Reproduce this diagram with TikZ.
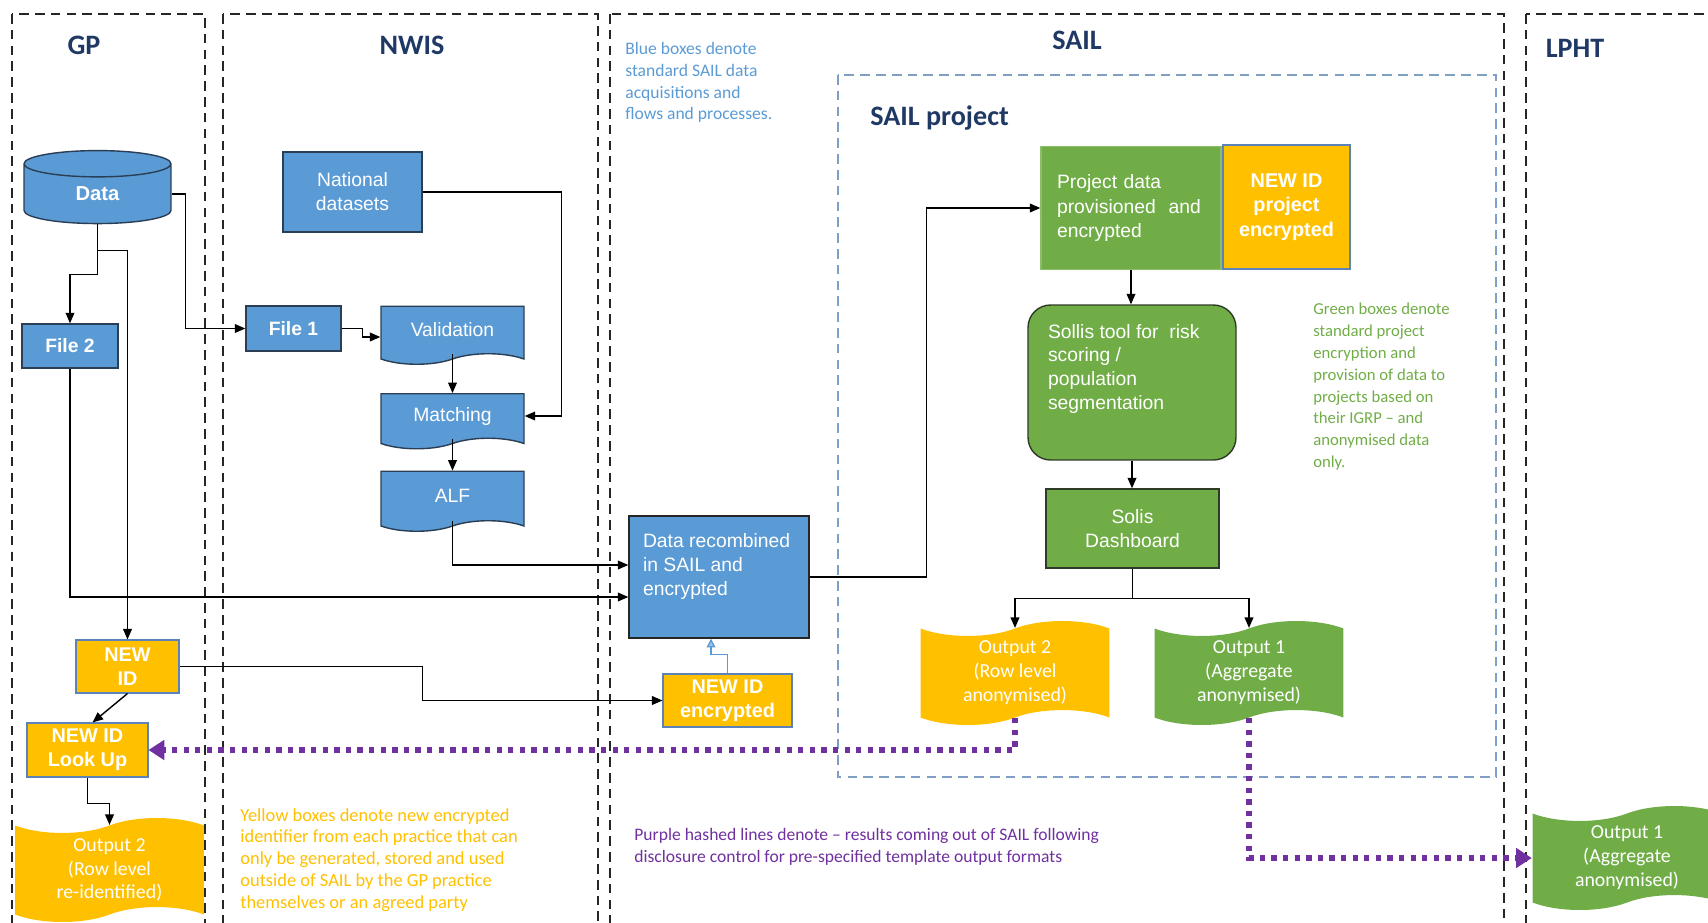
\documentclass[tikz,border=0pt]{standalone}
\usepackage{fontspec}
\setmainfont{Liberation Sans}
\newfontfamily\calibrifont{Carlito}
\usetikzlibrary{arrows.meta, positioning, shapes.geometric, shapes.symbols}

\definecolor{titlenavy}{HTML}{1F3864}
\definecolor{boxblue}{HTML}{5B9BD5}
\definecolor{edgeblue}{HTML}{2A3F55}
\definecolor{boxgreen}{HTML}{70AD47}
\definecolor{edgegreen}{HTML}{2E3B26}
\definecolor{boxyellow}{HTML}{FFC000}
\definecolor{edgeyellow}{HTML}{5B83B8}
\definecolor{hashpurple}{HTML}{7030A0}
\definecolor{projblue}{HTML}{7F9FC6}

\tikzset{
  lane/.style={draw=black!85, line width=1pt, dash pattern=on 5.5pt off 3.5pt},
  projlane/.style={draw=projblue, line width=0.8pt, dash pattern=on 5.5pt off 3.5pt},
  lanetitle/.style={text=titlenavy, inner sep=0pt, font=\calibrifont\bfseries\fontsize{16}{19}\selectfont},
  notetext/.style={anchor=north west, align=left, inner sep=0pt, font=\calibrifont\fontsize{10}{12.4}\selectfont},
  boxbase/.style={inner sep=0pt, text=white, align=center, line width=0.8pt, font=\fontsize{11}{13.6}\selectfont},
  bluebox/.style={boxbase, fill=boxblue, draw=edgeblue},
  docbox/.style={bluebox, tape, tape bend top=none, tape bend height=6pt, minimum width=2.86cm},
  greenbox/.style={boxbase, fill=boxgreen, draw=edgegreen},
  yellowbox/.style={boxbase, fill=boxyellow, draw=edgeyellow, line width=0.6pt, font=\bfseries\fontsize{11.3}{13.6}\selectfont},
  outtape/.style={boxbase, draw=none, tape, tape bend height=8.5pt, minimum width=3.78cm, minimum height=2.08cm, font=\calibrifont\fontsize{11.3}{13.6}\selectfont},
  flow/.style={-{Triangle[length=6pt,width=5pt]}, line width=0.8pt},
  hashed/.style={draw=hashpurple, line width=3pt, dash pattern=on 3pt off 3.6pt, -{Triangle[length=9pt,width=11pt]}}
}

\begin{document}
\begin{tikzpicture}[x=0.02cm, y=-0.02cm]
\useasboundingbox (0,0) rectangle (1708,923);
\clip (0,0) rectangle (1708,923);

% lanes
\draw[lane] (12,14) rectangle (205,960);
\draw[lane] (223,14) rectangle (598,960);
\draw[lane] (610,14) rectangle (1504,960);
\draw[lane] (1526,14) rectangle (1760,960);
\draw[projlane] (838,75) rectangle (1496,777);

\node[lanetitle] (gptitle) at (84,45) {GP};
\node[lanetitle] (nwistitle) at (412,45) {NWIS};
\node[lanetitle] (sailtitle) at (1077,40) {SAIL};
\node[lanetitle] (lphttitle) at (1575,48) {LPHT};
\node[lanetitle, anchor=west] (projtitle) at (870,118) {SAIL project};

% GP
\node[bluebox, cylinder, shape border rotate=90, aspect=0.6, minimum width=2.94cm, minimum height=1.46cm, font=\bfseries\fontsize{11.5}{13.6}\selectfont] (data) at (97.5,194) {Data};
\node[bluebox, minimum width=1.92cm, minimum height=0.88cm, font=\bfseries\fontsize{11}{13.6}\selectfont] (file2) at (70,346) {File 2};
\node[yellowbox, minimum width=2.06cm, minimum height=1.06cm] (newid) at (127.5,666.5) {NEW\\ID};
\node[yellowbox, minimum width=2.42cm, minimum height=1.08cm] (lookup) at (87.5,750) {NEW ID\\Look Up};
\node[outtape, fill=boxyellow] (gpout) at (109.5,870) {Output 2\\(Row level\\re-identified)};

% NWIS
\node[bluebox, minimum width=2.78cm, minimum height=1.6cm] (national) at (352.5,192) {National\\datasets};
\node[bluebox, minimum width=1.9cm, minimum height=0.9cm, font=\bfseries\fontsize{11}{13.6}\selectfont] (file1) at (293.5,328.5) {File 1};
\node[docbox, minimum height=1.16cm] (validation) at (452.5,330) {Validation};
\node[docbox, minimum height=1.1cm] (matching) at (452.5,416) {Matching};
\node[docbox, minimum height=1.2cm] (alf) at (452.5,496) {ALF};

% SAIL
\node[bluebox, draw=black!85, inner xsep=0.28cm, inner ysep=0.25cm] (datarec) at (719,577) {\parbox[c][1.94cm][t]{3.04cm}{\raggedright\vspace*{0.1cm}Data recombined\\in SAIL and\\encrypted}};
\node[yellowbox, minimum width=2.58cm, minimum height=1.06cm] (newidenc) at (727.5,700.5) {NEW ID\\encrypted};
\node[greenbox, draw=boxgreen!80!white, minimum width=3.6cm, minimum height=2.46cm, text width=2.96cm, align=left, font=\fontsize{11}{14}\selectfont] (projdata) at (1131,208) {Project data\\provisioned\ \ and\\encrypted};
\node[yellowbox, minimum width=2.54cm, minimum height=2.48cm, font=\bfseries\fontsize{11.3}{14}\selectfont] (newidproj) at (1286.5,207) {\rule{0pt}{0.2cm}NEW ID\\project\\encrypted};
\node[greenbox, rounded corners=0.45cm, inner xsep=0.4cm, inner ysep=0.3cm] (sollis) at (1132,382.5) {\parbox[c][2.5cm][t]{3.36cm}{\raggedright\vspace*{0.08cm}Sollis tool for\ \ risk\\scoring /\\population\\segmentation}};
\node[greenbox, minimum width=3.46cm, minimum height=1.58cm] (dashboard) at (1132.5,528.5) {Solis\\Dashboard};
\node[outtape, fill=boxyellow] (out2) at (1015,673) {Output 2\\(Row level\\anonymised)};
\node[outtape, fill=boxgreen] (out1) at (1249,673) {Output 1\\(Aggregate\\anonymised)};

% LPHT
\node[outtape, fill=boxgreen] (lpout) at (1627,858) {Output 1\\(Aggregate\\anonymised)};

% notes
\node[notetext, text=boxblue] (bluenote) at (625,42) {Blue boxes denote\\standard SAIL data\\acquisitions and\\flows and processes.};
\node[notetext, text=boxgreen, font=\calibrifont\fontsize{9.5}{12.4}\selectfont] (greennote) at (1313,303) {Green boxes denote\\standard project\\encryption and\\provision of data to\\projects based on\\their IGRP – and\\anonymised data\\only.};
\node[notetext, text=boxyellow, font=\calibrifont\fontsize{10.5}{12.4}\selectfont] (yellownote) at (240,808) {Yellow boxes denote new encrypted\\identifier from each practice that can\\only be generated, stored and used\\outside of SAIL by the GP practice\\themselves or an agreed party};
\node[notetext, text=hashpurple] (purplenote) at (634,828) {Purple hashed lines denote – results coming out of SAIL following\\disclosure control for pre-specified template output formats};

% flows
\draw[flow] (data.east) -- ++(14,0) |- (file1.west);
\draw[flow] (data.south) -- ++(0,50) -| (file2.north);
\draw[flow] (data.south) ++(0,26) -| (newid.north);
\draw[flow] (file2.south) |- ([yshift=-0.4cm]datarec.west);
\draw[flow] (file1.east) -- ++(21,0) |- ([yshift=-0.14cm]validation.west);
\draw[flow] (national.east) -- ++(139,0) |- (matching.east);
\draw[flow] (validation.south) -- (matching.north);
\draw[flow] (matching.south) -- (alf.north);
\draw[flow] (alf.south) |- ([yshift=0.24cm]datarec.west);
\draw[flow] (newid.east) -- ++(243,0) |- (newidenc.west);
\draw[flow] (newid.south) -- ([xshift=0.1cm]lookup.north);
\draw[flow] (lookup.south) -- ++(0,26) -| (gpout.north);
\draw[flow, draw=boxblue, -{Triangle[length=5pt,width=5pt,fill=boxblue!60]}] (newidenc.north) -- ++(0,-19) -| ([xshift=-0.16cm]datarec.south);
\draw[flow] (datarec.east) -- ++(117,0) |- (projdata.west);
\draw[flow] (projdata.south) -- (projdata.south |- sollis.north);
\draw[flow] (sollis.south) -- (sollis.south |- dashboard.north);
\draw[flow] (dashboard.south) -- ++(0,30) -| (out2.north);
\draw[flow] (dashboard.south) ++(0,30) -| (out1.north);

% results out of SAIL
\draw[hashed] (out2.south) |- (lookup.east);
\draw[hashed] (out1.south) |- (lpout.west);
\end{tikzpicture}
\end{document}
